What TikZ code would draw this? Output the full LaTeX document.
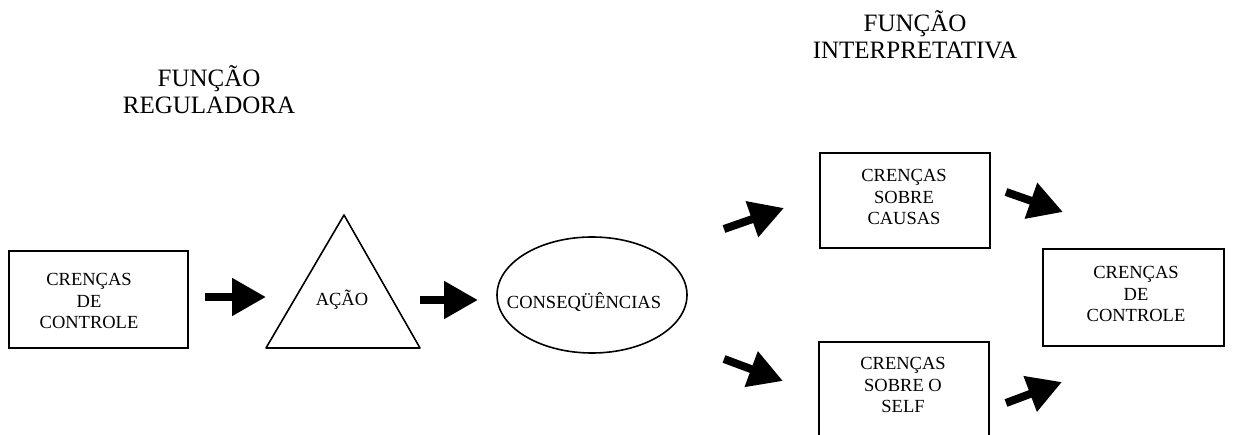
\documentclass[tikz,border=0pt]{standalone}
\usepackage{fontspec}
\setmainfont{Liberation Serif}
\usetikzlibrary{arrows.meta,shapes.geometric}
\begin{document}
\begin{tikzpicture}[x=1pt,y=-1pt,
  every node/.style={inner sep=0pt},
  boxtext/.style={align=center,font=\fontsize{18.5}{21.5}\selectfont},
  title/.style={align=center,font=\fontsize{25}{27}\selectfont},
  frame/.style={draw,line width=1.6pt},
  bigarrow/.style={line width=8pt,
    -{Triangle[length=34pt,width=36pt]}, shorten >=0pt}]
\useasboundingbox (0,0) rectangle (1244,435);
\clip (0,0) rectangle (1244,435);

% titles
\node[title] (tReg) at (209,90) {FUNÇÃO\\REGULADORA};
\node[title] (tInt) at (915,35) {FUNÇÃO\\INTERPRETATIVA};

% regulatory chain
\draw[frame] (9,251) rectangle (188,348);
\node[boxtext] (ctrlA) at (89,301) {CRENÇAS\\DE\\CONTROLE};

\draw[frame,line join=round] (266,348) -- (344,215) -- (420,348) -- cycle;
\node[boxtext] (acao) at (342,300) {AÇÃO};

\draw[frame] (592,295) ellipse [x radius=95, y radius=58];
\node[boxtext] (cons) at (584,302) {CONSEQÜÊNCIAS};

% interpretive branch
\draw[frame] (820,153) rectangle (990,248);
\node[boxtext] (causas) at (904,197) {CRENÇAS\\SOBRE\\CAUSAS};

\draw[frame] (819,342) rectangle (989,460);
\node[boxtext] (self) at (903,385) {CRENÇAS\\SOBRE O\\SELF};

\draw[frame] (1043,249) rectangle (1224,346);
\node[boxtext] (ctrlB) at (1136,294) {CRENÇAS\\DE\\CONTROLE};

% arrow end points
\coordinate (a1s) at (205,297);  \coordinate (a1e) at (266,297);
\coordinate (a2s) at (420,300);  \coordinate (a2e) at (478,300);
\coordinate (a3s) at (724,229);  \coordinate (a3e) at (784,208);
\coordinate (a4s) at (724,359);  \coordinate (a4e) at (783,381);
\coordinate (a5s) at (1006,192); \coordinate (a5e) at (1063,212);
\coordinate (a6s) at (1006,403); \coordinate (a6e) at (1062,382);

\foreach \s/\e in {a1s/a1e,a2s/a2e,a3s/a3e,a4s/a4e,a5s/a5e,a6s/a6e}
  \draw[bigarrow] (\s) -- (\e);
\end{tikzpicture}
\end{document}
